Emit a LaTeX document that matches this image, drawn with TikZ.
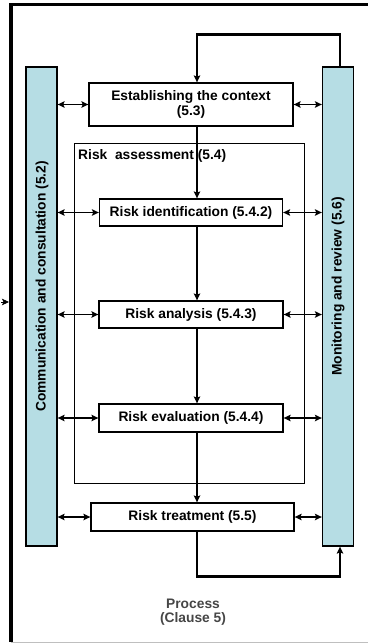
\documentclass[tikz,border=0pt]{standalone}
\usepackage{fontspec}
\setmainfont{Liberation Sans}
\usetikzlibrary{positioning,arrows.meta}
\definecolor{barblue}{RGB}{182,221,228}
\definecolor{procgray}{RGB}{70,70,70}

\begin{document}
\begin{tikzpicture}[>={Stealth[length=7pt,width=6.5pt,inset=1.5pt]}, x=1pt, y=-1pt, node distance=100pt, on grid,
    every node/.style={font=\fontsize{13.8}{14.5}\selectfont\bfseries},
    stepbox/.style={draw, line width=1.3pt, inner sep=0pt, align=center, minimum width=184pt, minimum height=27pt},
    bar/.style={draw, line width=1.3pt, fill=barblue, minimum width=31pt, minimum height=479pt, inner sep=0pt},
    link/.style={<->, line width=1.4pt},
    flow/.style={->, line width=1.4pt},
    loopline/.style={->, line width=2.4pt}]
    \useasboundingbox (0,0) rectangle (368,644);

    % outer frame
    \draw[line width=3pt] (9,5) -- (368,5);
    \draw[line width=4pt] (11,3.5) -- (11,642);
    \draw[gray!50, line width=0.8pt] (11,642) -- (368,642);
    \coordinate (tick) at (1,302);
    \coordinate (frame) at (9,302);
    \draw[->, line width=0.8pt] (tick) -- (frame);

    % side bars
    \node[bar] (comm) at (41.5,306.5) {};
    \node[bar] (mon) at (338,306.5) {};
    \node[rotate=90] (commtext) at (42,286.5) {Communication and consultation (5.2)};
    \node[rotate=90] (montext) at (338,286.5) {Monitoring and review (5.6)};

    % risk assessment frame
    \node[draw, line width=0.9pt, minimum width=230pt, minimum height=340pt] (assess) at (189,313) {};
    \node[anchor=base west, inner sep=0pt] (assesstext) at (78,160) {Risk\ \ assessment (5.4)};

    % process steps
    \node[stepbox, minimum width=204pt, minimum height=43pt] (est) at (191,104.5) {Establishing the context\\(5.3)};
    \node[stepbox, minimum width=183pt] (ident) [below=108pt of est] {Risk identification (5.4.2)};
    \node[stepbox] (anal) [below=102pt of ident] {Risk analysis (5.4.3)};
    \node[stepbox, minimum height=28pt] (eval) [below=103.5pt of anal] {Risk evaluation (5.4.4)};
    \node[stepbox, minimum width=203pt, minimum height=28pt] (treat) [below=99pt of eval, xshift=1.5pt] {Risk treatment (5.5)};

    \node[text=procgray, align=center] (proc) at (193,612) {Process\\(Clause 5)};

    \coordinate (spine) at (197,0);
    \draw[flow] (est.south -| spine) -- (ident.north -| spine);
    \draw[flow] (ident.south -| spine) -- (anal.north -| spine);
    \draw[flow] (anal.south -| spine) -- (eval.north -| spine);
    \draw[flow] (eval.south -| spine) -- (treat.north -| spine);

    % links to the side bars
    \foreach \s in {est,ident,anal,eval,treat}{
        \draw[link] (comm.east |- \s.west) -- (\s.west);
        \draw[link] (\s.east) -- (mon.west |- \s.east);
    }

    % feedback loops
    \draw[loopline] ([xshift=2pt]mon.north) -- ++(0,-32) -| (est.north -| spine);
    \draw[loopline] (treat.south -| spine) -- ++(0,45) -| ([xshift=2pt]mon.south);
\end{tikzpicture}
\end{document}
